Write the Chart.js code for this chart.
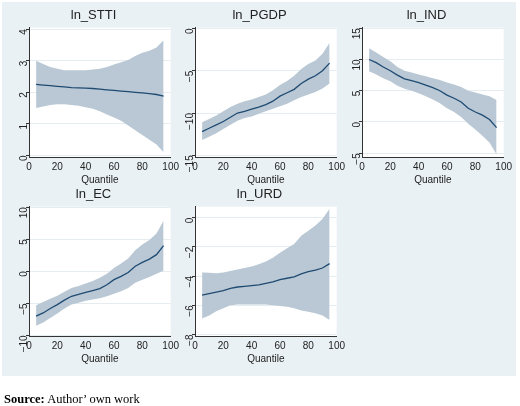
<!DOCTYPE html>
<html><head><meta charset="utf-8">
<script src="https://cdn.jsdelivr.net/npm/chart.js@4"></script>
<style>
body{margin:0;width:520px;height:406px;background:#fff;position:relative;font-family:"Liberation Serif",serif}
#bg{position:absolute;left:2px;top:2px;width:514px;height:374px;background:#eaf1f4}
.p{position:absolute;width:176px;height:182px}
#src{position:absolute;left:4px;top:392px;font-size:12.5px}
</style></head><body>
<div id="bg"></div>
<div class="p" style="left:4px;top:4px"><canvas id="c0"></canvas></div>
<div class="p" style="left:170px;top:4px"><canvas id="c1"></canvas></div>
<div class="p" style="left:337px;top:4px"><canvas id="c2"></canvas></div>
<div class="p" style="left:4px;top:183px"><canvas id="c3"></canvas></div>
<div class="p" style="left:170px;top:183px"><canvas id="c4"></canvas></div>
<div id="src"><b>Source:</b> Author’ own work</div>
<script>
const quantiles = [5,10,15,20,25,30,35,40,45,50,55,60,65,70,75,80,85,90,95]

const sttiMean = [2.25,2.23,2.21,2.19,2.17,2.15,2.14,2.13,2.12,2.10,2.08,2.06,2.04,2.02,2.0,1.98,1.96,1.93,1.88]
const sttiUp = [3.0,2.9,2.8,2.75,2.7,2.7,2.7,2.7,2.72,2.75,2.8,2.88,2.95,3.02,3.15,3.25,3.32,3.42,3.65]
const sttiLo = [1.5,1.55,1.6,1.62,1.62,1.6,1.57,1.53,1.48,1.4,1.3,1.2,1.1,0.95,0.8,0.65,0.5,0.35,0.1]

const pgdpMean = [-12.2,-11.8,-11.4,-11.0,-10.5,-10.0,-9.8,-9.55,-9.3,-9.0,-8.6,-8.0,-7.6,-7.2,-6.5,-6.0,-5.6,-5.0,-4.1]
const pgdpUp = [-11.1,-10.7,-10.3,-9.8,-9.3,-8.9,-8.6,-8.4,-8.1,-7.8,-7.3,-6.7,-6.2,-5.6,-4.8,-4.2,-3.8,-3.0,-1.7]
const pgdpLo = [-13.2,-12.8,-12.4,-11.9,-11.4,-10.9,-10.6,-10.4,-10.1,-9.8,-9.5,-9.2,-8.9,-8.5,-8.1,-7.8,-7.5,-7.1,-6.5]

const indMean = [10,9.5,8.8,8.2,7.5,6.9,6.6,6.3,5.9,5.5,5.0,4.3,3.8,3.2,2.2,1.6,1.1,0.4,-0.9]
const indUp = [11.8,11.1,10.4,9.7,8.8,8.2,7.9,7.6,7.3,7.0,6.7,6.3,6.0,5.6,5.0,4.7,4.4,4.1,3.5]
const indLo = [8.1,7.6,7.0,6.5,5.8,5.3,5.0,4.6,4.1,3.6,3.0,2.2,1.6,0.8,-0.3,-1.2,-2.2,-3.3,-5.2]

const ecMean = [-7,-6.5,-5.8,-5.2,-4.5,-3.9,-3.6,-3.3,-3.0,-2.7,-2.1,-1.3,-0.8,-0.2,0.8,1.4,1.9,2.6,4.0]
const ecUp = [-5.3,-4.8,-4.3,-3.8,-3.2,-2.6,-2.3,-1.9,-1.5,-1.0,-0.4,0.5,1.2,2.0,3.3,4.2,4.9,5.9,7.9]
const ecLo = [-8.5,-8.0,-7.3,-6.6,-5.8,-5.2,-4.9,-4.6,-4.4,-4.2,-3.9,-3.5,-3.1,-2.6,-1.8,-1.3,-0.9,-0.4,0.1]

const urdMean = [-5.3,-5.2,-5.1,-5.0,-4.85,-4.75,-4.7,-4.65,-4.6,-4.5,-4.4,-4.25,-4.15,-4.05,-3.85,-3.7,-3.6,-3.45,-3.15]
const urdUp = [-3.75,-3.78,-3.8,-3.75,-3.65,-3.55,-3.45,-3.35,-3.2,-3.0,-2.75,-2.4,-2.1,-1.8,-1.25,-0.9,-0.55,-0.1,0.6]
const urdLo = [-6.9,-6.7,-6.4,-6.2,-6.0,-5.95,-5.95,-5.95,-5.95,-5.95,-6.0,-6.05,-6.1,-6.2,-6.35,-6.45,-6.55,-6.7,-7.0]

const xTicks = [0,20,40,60,80,100]

function pts(arr){ return arr.map((v,i) => ({x: quantiles[i], y: v})) }

// white plot area on the grey page
const whiteArea = {
  id: 'whiteArea',
  beforeDraw(chart){
    const a = chart.chartArea, ctx = chart.ctx
    ctx.save(); ctx.fillStyle = '#fff'
    ctx.fillRect(a.left, a.top, a.right - a.left, a.bottom - a.top)
    ctx.restore()
  }
}

function makePanel(id, title, mean, up, lo, ymin, ymax, step){
  new Chart(document.getElementById(id), {
    type: 'line',
    data: {datasets: [
      {data: pts(up), borderWidth: 0, pointRadius: 0, fill: '+1', backgroundColor: '#b9c8d4'},
      {data: pts(lo), borderWidth: 0, pointRadius: 0, fill: false},
      {data: pts(mean), borderColor: '#1f4a72', borderWidth: 1.3, pointRadius: 0, fill: false}
    ]},
    plugins: [whiteArea],
    options: {
      animation: false, responsive: true, maintainAspectRatio: false,
      layout: {padding: {left: 6, right: 3, top: 0, bottom: 0}},
      plugins: {
        legend: {display: false}, tooltip: {enabled: false},
        title: {display: true, text: title, color: '#222', font: {family: 'Liberation Sans', size: 13, weight: 'normal'}, padding: {top: 4, bottom: 4}},
        filler: {drawTime: 'beforeDatasetsDraw'}
      },
      scales: {
        x: {type: 'linear', min: 0, max: 100, afterBuildTicks: a => { a.ticks = xTicks.map(v => ({value: v})) },
          grid: {display: false, drawTicks: true, tickLength: 3},
          border: {color: '#333'},
          ticks: {color: '#222', font: {family: 'Liberation Sans', size: 10}, padding: 1, maxRotation: 0},
          title: {display: true, text: 'Quantile', color: '#222', font: {family: 'Liberation Sans', size: 10}, padding: 0}},
        y: {min: ymin, max: ymax,
          afterBuildTicks: a => { const t = []; for (let v = Math.ceil(ymin/step)*step; v <= ymax + 1e-9; v += step) t.push({value: v}); a.ticks = t },
          grid: {color: '#e6edf1', tickLength: 3, tickColor: '#333'},
          border: {color: '#333'},
          ticks: {color: '#222', font: {family: 'Liberation Sans', size: 10}, padding: 2, minRotation: 90, maxRotation: 90,
            callback: v => String(v).replace('-', '\u2212')}}
      }
    }
  })
}

makePanel('c0', 'ln_STTI', sttiMean, sttiUp, sttiLo, -0.05, 4.05, 1)
makePanel('c1', 'ln_PGDP', pgdpMean, pgdpUp, pgdpLo, -15.2, 0.1, 5)
makePanel('c2', 'ln_IND', indMean, indUp, indLo, -5.6, 15.1, 5)
makePanel('c3', 'ln_EC', ecMean, ecUp, ecLo, -10.1, 10.1, 5)
makePanel('c4', 'ln_URD', urdMean, urdUp, urdLo, -8.1, 0.75, 2)
</script>
</body></html>
